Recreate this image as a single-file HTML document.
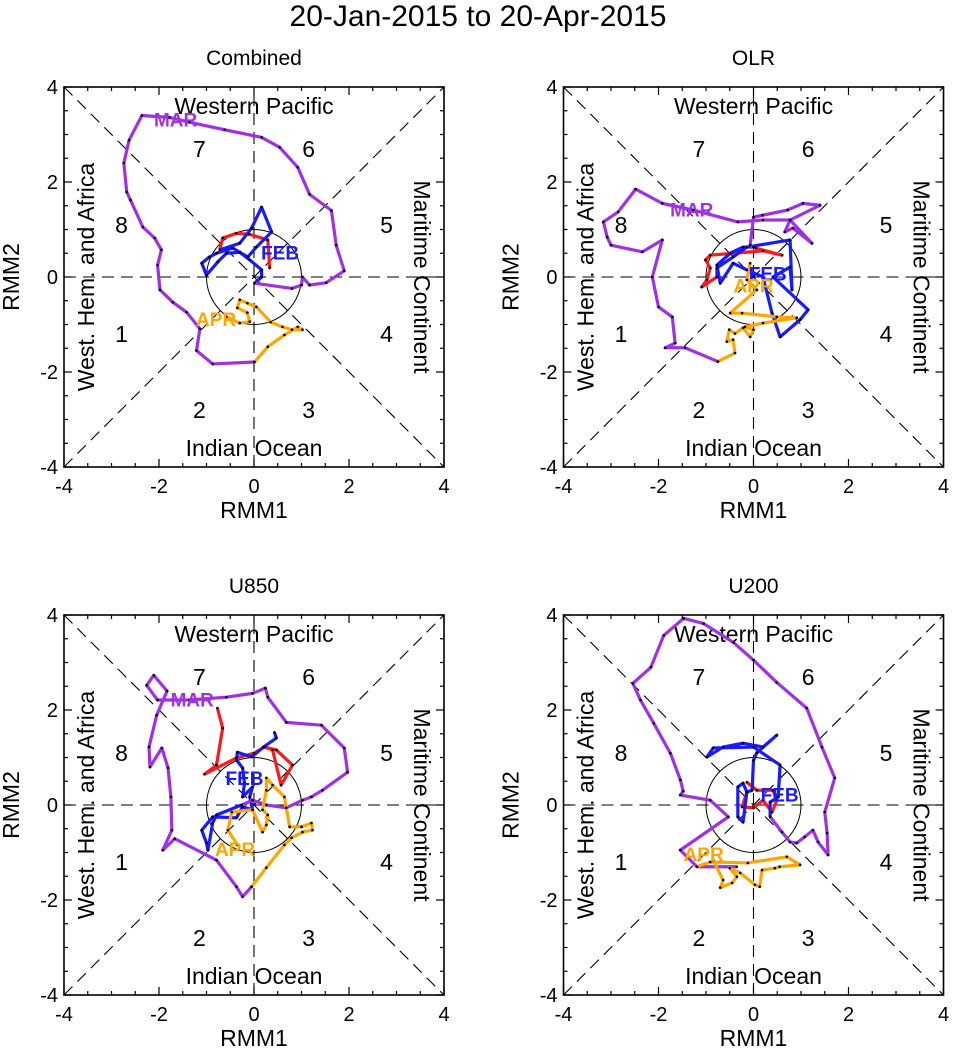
<!DOCTYPE html>
<html><head><meta charset="utf-8"><style>
body{margin:0;background:#fff}
svg text{font-family:"Liberation Sans",sans-serif}
</style></head><body>
<svg id="fig" width="956" height="1058" viewBox="0 0 956 1058" xmlns="http://www.w3.org/2000/svg">
<text x="478" y="26" font-size="30" text-anchor="middle">20-Jan-2015 to 20-Apr-2015</text>
</svg>
<script>
const panelTitles=["Combined","OLR","U850","U200"];
const tickLabels=["-4","-2","0","2","4"];
const tickValues=[-4,-2,0,2,4];
const monthNames=["JAN","FEB","MAR","APR"];
const monthColors=["#ff1a1a","#1a1aff","#a030e8","#ffa500"];
// Combined
const p1Jan=[[0.33,0.19],[0.29,0.78],[-0.1,0.9],[-0.37,0.92],[-0.66,0.82],[-0.72,0.57]];
const p1Feb=[[-0.72,0.57],[-0.3,0.71],[-0.05,1.03],[0.16,1.47],[0.37,0.95],[0.05,0.63],[-0.13,0.42],[-0.45,0.61],[-0.79,0.5],[-0.94,0.42],[-1.1,0.29],[-1.0,0.04],[-0.76,0.32],[-0.58,0.5],[-0.3,0.52],[-0.09,0.36],[0.16,0.15],[0.16,0],[0.01,-0.13]];
const p1Mar=[[0.01,-0.13],[0.8,-0.24],[1.0,-0.17],[1.02,0],[1.17,-0.17],[1.52,-0.12],[1.9,0.13],[1.73,0.67],[1.63,1.4],[1.17,1.74],[0.92,2.31],[0.54,2.73],[0.16,2.94],[-0.62,3.1],[-1.36,3.26],[-1.78,3.36],[-2.36,3.4],[-2.63,2.88],[-2.74,2.4],[-2.68,1.79],[-2.6,1.62],[-2.34,1.05],[-2.09,0.82],[-1.95,0.57],[-2.03,0.25],[-1.98,-0.27],[-1.71,-0.53],[-1.42,-0.74],[-1.14,-1.09],[-1.21,-1.55],[-0.87,-1.83],[0.01,-1.79]];
const p1Apr=[[0.01,-1.79],[0.29,-1.47],[0.64,-1.22],[0.92,-1.05],[1.02,-1.11],[0.8,-1.11],[0.6,-1.05],[0.35,-0.95],[0.05,-0.63],[-0.14,-0.55],[-0.3,-0.48],[-0.35,-0.65],[-0.14,-0.75],[-0.09,-0.94],[-0.3,-0.97],[-0.58,-0.84]];
// OLR
const p2Jan=[[0.04,0.61],[0.6,0.46],[0.2,0.55],[-0.91,0.46],[-1.01,0.36],[-0.91,0.19],[-0.98,-0.06],[-1.09,-0.21],[-0.77,0]];
const p2Feb=[[-0.77,0],[-0.77,0.19],[-0.43,0.42],[-0.14,0.63],[0.77,0.78],[0.81,-0.27],[0.77,0.21],[0.41,0],[1.15,-0.69],[0.98,-0.9],[0.56,-1.26],[0.39,-0.76],[0.2,0],[-0.14,0.15],[-0.43,0.29],[-0.7,-0.13],[-0.77,0.25],[-0.49,0.5],[-0.22,0.63],[0,0.63]];
const p2Mar=[[0,0.63],[-0.07,0.67],[0,1.26],[0.19,1.3],[0.72,1.41],[1.04,1.55],[1.4,1.51],[0.77,1.2],[0.66,0.95],[0.83,1.03],[1.23,0.71],[0.77,1.2],[0.2,1.2],[-0.33,1.16],[-1.27,1.41],[-1.92,1.55],[-2.48,1.85],[-2.85,1.37],[-3.16,1.16],[-3.08,0.84],[-3.0,0.67],[-2.34,0.53],[-1.92,0.78],[-2.13,0],[-2.0,-0.63],[-1.71,-0.84],[-1.65,-1.39],[-1.86,-1.49],[-1.44,-1.49],[-0.75,-1.78]];
const p2Apr=[[-0.75,-1.78],[-0.39,-1.6],[-0.43,-1.32],[-0.56,-1.36],[-0.51,-1.11],[-0.39,-1.19],[-0.22,-1.07],[-0.07,-1.26],[0,-1.11],[-0.18,-1.05],[0.2,-0.97],[0.91,-0.86],[0.49,-0.84],[-0.24,-0.76],[-0.49,-0.76],[0.07,-0.27],[-0.14,-0.06],[-0.07,0.29]];
// U850
const p3Jan=[[-0.77,2.04],[-0.66,1.62],[-0.79,0.84],[-1.04,0.65],[-0.37,0.99],[0,1.09],[0.22,1.22],[0.47,1.16],[0.81,0.84],[0.57,0.42],[0.39,1.16],[0.22,1.22]];
const p3Feb=[[0.43,1.53],[0.47,1.41],[0.2,1.22],[-0.05,1.01],[-0.35,1.11],[-0.37,0.95],[-0.24,0.78],[-0.2,0.46],[-0.24,0.17],[-0.03,0.38],[-0.09,0.17],[-0.03,-0.1],[-0.24,-0.04],[-0.37,-0.27],[-0.87,-0.25],[-1.1,-0.53],[-1.0,-0.8],[-0.97,-0.95],[-0.87,-0.38],[-0.79,-0.21],[-0.26,0]];
const p3Mar=[[-0.26,0],[-0.03,0.1],[0.26,0],[0.68,-0.06],[1.02,0.1],[1.21,0.17],[1.44,0.31],[1.97,0.69],[1.9,1.2],[1.42,1.68],[0.68,1.74],[0.29,2.27],[0.24,2.46],[-0.03,2.35],[-0.58,2.27],[-1.36,2.21],[-2.03,2.21],[-2.26,2.52],[-2.11,2.73],[-1.83,2.4],[-2.05,1.89],[-2.21,1.22],[-2.19,0.8],[-1.94,1.2],[-1.81,0.78],[-1.75,0.17],[-1.73,-0.53],[-1.92,-0.95],[-1.67,-0.71],[-0.79,-1.16],[-0.37,-1.72],[-0.24,-1.93],[-0.05,-1.72]];
const p3Apr=[[-0.05,-1.72],[0.26,-1.32],[0.64,-0.84],[0.79,-0.69],[1.02,-0.57],[1.23,-0.53],[1.21,-0.38],[1.0,-0.46],[0.75,-0.46],[0.64,0.17],[0.39,0.42],[0.26,0.57],[0.26,0.31],[0.18,-0.1],[0.29,-0.21],[0.26,-0.42],[0.18,-0.57],[-0.03,-0.1],[-0.47,-0.15],[-0.55,-0.53],[-0.35,-0.84]];
// U200
const p4Jan=[[-0.14,0.48],[0.07,0.31],[0.41,0.31],[0.49,0.1],[0.39,-0.15],[0.2,0.1],[0,-0.06],[-0.24,-0.04],[-0.14,0.27]];
const p4Feb=[[-0.14,0.27],[-0.22,-0.36],[-0.33,-0.25],[-0.33,0.38],[-0.22,0.46],[-0.14,0.27],[-0.03,0.31],[0,0.94],[0.07,1.1],[0.49,1.47],[0.2,1.22],[-0.22,1.3],[-0.64,1.22],[-0.98,1.01],[-0.85,1.2],[0,1.22],[0.56,0.84],[0.52,0.17],[0.35,0.06],[0.35,-0.25]];
const p4Mar=[[0.35,-0.25],[0.6,-0.57],[0.77,-0.78],[0.91,-0.8],[1.08,-0.67],[1.25,-0.53],[1.36,-0.78],[1.57,-1.05],[1.55,-0.59],[1.5,-0.15],[1.71,0.57],[1.44,1.22],[1.12,2.04],[0.49,2.58],[0,3.05],[-0.42,3.42],[-1.05,3.82],[-1.47,3.93],[-1.89,3.57],[-2.16,2.9],[-2.54,2.56],[-2.38,2.21],[-2.1,1.72],[-1.75,1.09],[-1.54,0.53],[-1.48,0.29],[-1.54,0.21],[-0.91,0.1],[-0.53,-0.25],[-1.54,-0.95],[-1.19,-1.3],[-0.35,-1.3]];
const p4Apr=[[-1.19,-1.3],[-0.91,-1.2],[-0.12,-1.22],[0.7,-1.09],[0.98,-1.26],[0.55,-1.3],[0.45,-1.33],[0.18,-1.37],[0.13,-1.72],[0.03,-1.68],[-0.28,-1.43],[-0.5,-1.33],[-0.35,-1.51],[-0.45,-1.64],[-0.7,-1.74],[-0.64,-1.58],[-0.85,-1.16]];
const panelData=[[p1Jan,p1Feb,p1Mar,p1Apr],[p2Jan,p2Feb,p2Mar,p2Apr],[p3Jan,p3Feb,p3Mar,p3Apr],[p4Jan,p4Feb,p4Mar,p4Apr]];
const monthLabelPos=[[null,[0.55,0.5],[-1.65,3.3],[-0.8,-0.9]],[null,[0.3,0.05],[-1.3,1.4],[0,-0.2]],[null,[-0.2,0.55],[-1.3,2.2],[-0.4,-0.95]],[null,[0.55,0.2],null,[-1.05,-1.05]]];
const phaseNums=["1","2","3","4","5","6","7","8"];
const phasePos=[[-2.79,-1.2],[-1.15,-2.8],[1.15,-2.8],[2.79,-1.2],[2.79,1.1],[1.15,2.7],[-1.15,2.7],[-2.79,1.1]];

const NS="http://www.w3.org/2000/svg";
const svg=document.getElementById('fig');
function mk(tag,attrs,parent){const e=document.createElementNS(NS,tag);for(const k in attrs)e.setAttribute(k,attrs[k]);(parent||svg).appendChild(e);return e;}
const S=47.5;
const origins=[[64,87],[563.5,87],[64,615],[563.5,615]];
origins.forEach((o,pi)=>{
  const [x0,y0]=o;const W=8*S;
  const X=v=>x0+(v+4)*S, Y=v=>y0+(4-v)*S;
  const g=mk('g',{});
  
  
  const t=mk('text',{x:x0+W/2,y:y0-22,'font-size':21,'text-anchor':'middle'},g);t.textContent=panelTitles[pi];
  
  [[-4,-4,4,4],[-4,4,4,-4],[-4,0,4,0],[0,-4,0,4]].forEach(l=>{
    const ln=mk('line',{x1:X(l[0]),y1:Y(l[1]),x2:X(l[2]),y2:Y(l[3]),stroke:'#000','stroke-width':1.1,'stroke-dasharray':'12,7'},g);
    
  });
  const c=mk('circle',{cx:X(0),cy:Y(0),r:S,fill:'none',stroke:'#000','stroke-width':1},g);
  
  const lab=(txt,x,y,rot,name)=>{const e=mk('text',{x:x,y:y,'font-size':23,'text-anchor':'middle',transform:rot?`rotate(${rot} ${x} ${y})`:''},g);e.textContent=txt;};
  lab('Western Pacific',X(0),y0+27,0,'region-label-western-pacific');
  lab('Indian Ocean',X(0),y0+W-11,0,'region-label-indian-ocean');
  lab('West. Hem. and Africa',x0+30,Y(0),-90,'region-label-west-hem');
  lab('Maritime Continent',x0+W-30,Y(0),90,'region-label-maritime');
  phaseNums.forEach((n,i)=>{const e=mk('text',{x:X(phasePos[i][0]),y:Y(phasePos[i][1])+8,'font-size':23,'text-anchor':'middle'},g);e.textContent=n;
    });
  panelData[pi].forEach((arr,mi)=>{
    const p=mk('polyline',{points:arr.map(d=>X(d[0])+','+Y(d[1])).join(' '),fill:'none',stroke:monthColors[mi],'stroke-width':3.2,'stroke-linejoin':'round'},g);
    
    
  });
  panelData[pi].forEach((arr,mi)=>{
    arr.forEach((d,k)=>{const dot=mk('circle',{cx:X(d[0]),cy:Y(d[1]),r:1.3,fill:'#000'},g);
      
      });
    const lp=monthLabelPos[pi][mi];
    if(lp){const e=mk('text',{x:X(lp[0]),y:Y(lp[1])+6,'font-size':19,'font-weight':'bold','text-anchor':'middle',fill:monthColors[mi]},g);e.textContent=monthNames[mi];
      
      }
  });
  const fr=mk('rect',{x:x0,y:y0,width:W,height:W,fill:'none',stroke:'#000','stroke-width':1.6},g);
  
  for(let v=-4;v<=4.001;v+=0.5){
    const maj=Math.abs(v%2)<0.01, L=maj?8:4;
    mk('line',{x1:X(v),y1:y0+W,x2:X(v),y2:y0+W-L,stroke:'#000','stroke-width':1.2},g);
    mk('line',{x1:X(v),y1:y0,x2:X(v),y2:y0+L,stroke:'#000','stroke-width':1.2},g);
    mk('line',{x1:x0,y1:Y(v),x2:x0+L,y2:Y(v),stroke:'#000','stroke-width':1.2},g);
    mk('line',{x1:x0+W,y1:Y(v),x2:x0+W-L,y2:Y(v),stroke:'#000','stroke-width':1.2},g);
  }
  tickValues.forEach((v,i)=>{
    const a=mk('text',{x:X(v),y:y0+W+26,'font-size':20,'text-anchor':'middle'},g);a.textContent=tickLabels[i];
    
    const b=mk('text',{x:x0-6,y:Y(v)+7,'font-size':20,'text-anchor':'end'},g);b.textContent=tickLabels[i];
    
  });
  const xl=mk('text',{x:x0+W/2,y:y0+W+51,'font-size':23,'text-anchor':'middle'},g);xl.textContent='RMM1';
  
  const yx=x0-45, yy=y0+W/2;
  const yl=mk('text',{x:yx,y:yy,'font-size':23,'text-anchor':'middle',transform:`rotate(-90 ${yx} ${yy})`},g);yl.textContent='RMM2';
  
});
</script>
</body></html>
